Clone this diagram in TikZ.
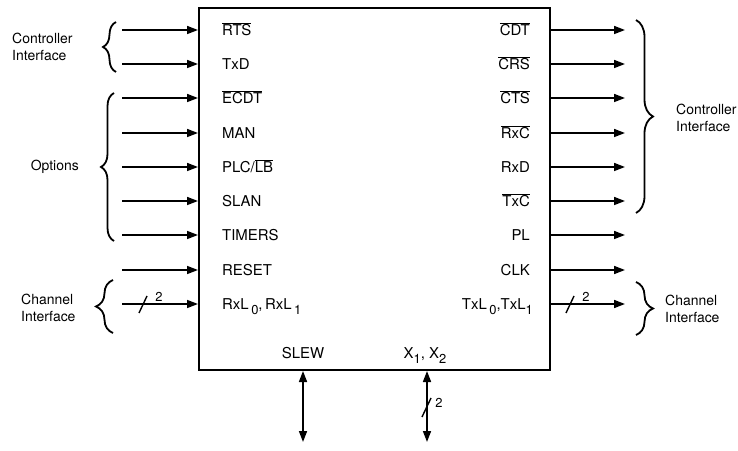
\documentclass[tikz,border=0pt]{standalone}
\usepackage{fontspec}
\setmainfont{TeX Gyre Heros}
\usetikzlibrary{arrows.meta,decorations.pathreplacing}

\newcommand{\nsig}[1]{$\overline{\mbox{#1}}$}
\newcommand{\lsub}[1]{\raisebox{-0.6ex}{\fontsize{13}{15}\selectfont #1}}

\begin{document}
\begin{tikzpicture}[x=1bp,y=-1bp,font=\fontsize{15}{18}\selectfont,
  sig/.style={line width=1.6bp,-{Triangle[length=11bp,width=8bp]}},
  bus/.style={line width=1.6bp,{Triangle[length=11bp,width=8bp]}-{Triangle[length=11bp,width=8bp]}},
  brc/.style={line width=1.8bp,decorate,decoration={brace,amplitude=#1}},
  brc/.default=13bp,
  pinL/.style={anchor=west,inner sep=0pt,text height=11bp,text depth=0pt},
  pinR/.style={anchor=east,inner sep=0pt,text height=11bp,text depth=0pt},
  grp/.style={align=left,inner sep=0pt,font=\fontsize{14}{17}\selectfont},
  wid/.style={font=\fontsize{13}{15}\selectfont,inner sep=0pt}]
  \useasboundingbox (0,0) rectangle (738,451);
  \node[draw,line width=2bp,minimum width=351bp,minimum height=362bp,inner sep=0pt]
    (chip) at (374.5,189) {};
  % inputs
  \node[pinL] (rts) at (222,30) {\nsig{RTS}};
  \node[pinL] (txd) at (222,64) {TxD};
  \node[pinL] (ecdt) at (222,98) {\nsig{ECDT}};
  \node[pinL] (man) at (222,133) {MAN};
  \node[pinL] (plc) at (222,167) {PLC/\nsig{LB}};
  \node[pinL] (slan) at (222,201) {SLAN};
  \node[pinL] (tmr) at (222,235) {TIMERS};
  \node[pinL] (rst) at (222,270) {RESET};
  \node[pinL] (rxl) at (222,304) {RxL\,\lsub{0},\,RxL\,\lsub{1}};
  \draw[sig] (122,0 |- rts) -- (chip.west |- rts);
  \draw[sig] (122,0 |- txd) -- (chip.west |- txd);
  \draw[sig] (122,0 |- ecdt) -- (chip.west |- ecdt);
  \draw[sig] (122,0 |- man) -- (chip.west |- man);
  \draw[sig] (122,0 |- plc) -- (chip.west |- plc);
  \draw[sig] (122,0 |- slan) -- (chip.west |- slan);
  \draw[sig] (122,0 |- tmr) -- (chip.west |- tmr);
  \draw[sig] (122,0 |- rst) -- (chip.west |- rst);
  \draw[sig] (122,0 |- rxl) -- (chip.west |- rxl);
  \draw[line width=1.4bp] (139,313) -- (147,296);
  \node[wid] at (159,297) {2};
  % outputs
  \node[pinR] (cdt) at (530,30) {\nsig{CDT}};
  \node[pinR] (crs) at (530,64) {\nsig{CRS}};
  \node[pinR] (cts) at (530,98) {\nsig{CTS}};
  \node[pinR] (rxc) at (530,133) {\nsig{RxC}};
  \node[pinR] (rxd) at (530,167) {RxD};
  \node[pinR] (txc) at (530,201) {\nsig{TxC}};
  \node[pinR] (pl) at (530,235) {PL};
  \node[pinR] (clk) at (530,270) {CLK};
  \node[pinR] (txl) at (533,304) {TxL\,\lsub{0},TxL\lsub{1}};
  \draw[sig] (chip.east |- cdt) -- (625,0 |- cdt);
  \draw[sig] (chip.east |- crs) -- (625,0 |- crs);
  \draw[sig] (chip.east |- cts) -- (625,0 |- cts);
  \draw[sig] (chip.east |- rxc) -- (625,0 |- rxc);
  \draw[sig] (chip.east |- rxd) -- (625,0 |- rxd);
  \draw[sig] (chip.east |- txc) -- (625,0 |- txc);
  \draw[sig] (chip.east |- pl) -- (625,0 |- pl);
  \draw[sig] (chip.east |- clk) -- (625,0 |- clk);
  \draw[sig] (chip.east |- txl) -- (625,0 |- txl);
  \draw[line width=1.4bp] (566,313) -- (574,296);
  \node[wid] at (586,297) {2};
  % bottom
  \node[pinL,anchor=center] (slew) at (303,353) {SLEW};
  \node[pinL,anchor=center] (xtal) at (425,353) {X\lsub{1}, X\lsub{2}};
  \draw[bus] (slew |- chip.south) -- (slew |- 0,442);
  \draw[bus] (427,0 |- chip.south) -- (427,442);
  \draw[line width=1.4bp] (422,417) -- (431,398);
  \node[wid] at (439,403) {2};
  % groups
  \draw[brc] (116,72) -- (116,22);
  \draw[brc] (114,241) -- (114,93);
  \draw[brc=17bp] (113,333) -- (113,280);
  \draw[brc=17bp] (636,20) -- (636,213);
  \draw[brc=17bp] (636,282) -- (636,335);
  \node[grp,anchor=west] (ctlL) at (12,47) {Controller\\Interface};
  \node[grp,anchor=east] (opt) at (79,167) {Options};
  \node[grp,anchor=west] (chnL) at (21,308) {Channel\\Interface};
  \node[grp,anchor=west] (ctlR) at (676,118) {Controller\\Interface};
  \node[grp,anchor=west] (chnR) at (665,309) {Channel\\Interface};
\end{tikzpicture}
\end{document}
